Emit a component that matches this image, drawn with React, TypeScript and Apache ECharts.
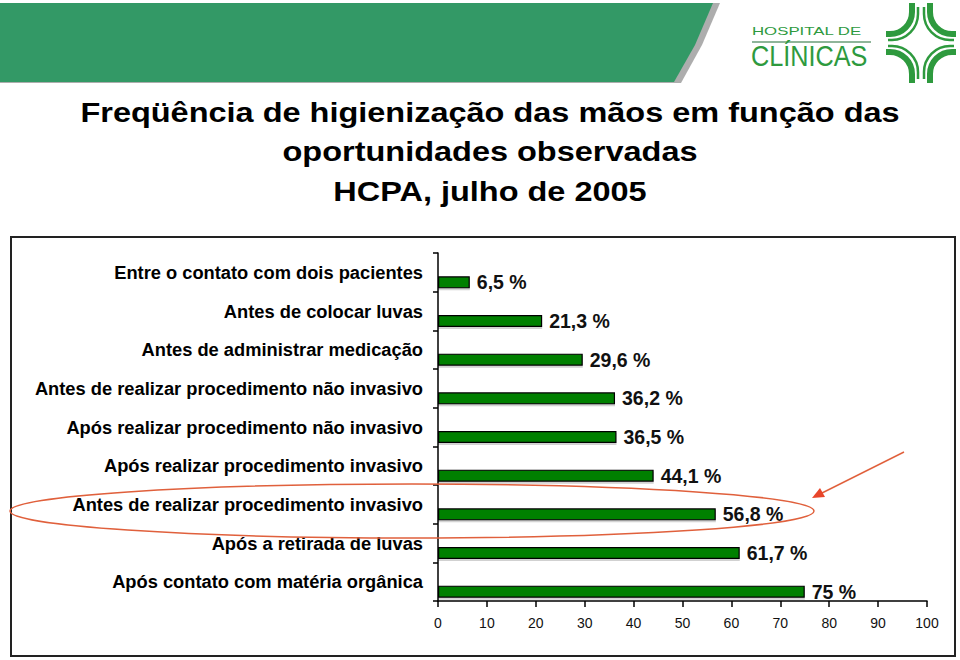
import React, { useEffect, useRef } from 'react';
import * as echarts from 'echarts';

const categories = [
  'Entre o contato com dois pacientes',
  'Antes de colocar luvas',
  'Antes de administrar medicação',
  'Antes de realizar procedimento não invasivo',
  'Após realizar procedimento não invasivo',
  'Após realizar procedimento invasivo',
  'Antes de realizar procedimento invasivo',
  'Após a retirada de luvas',
  'Após contato com matéria orgânica',
];
const values = [6.5, 21.3, 29.6, 36.2, 36.5, 44.1, 56.8, 61.7, 75];
const spacer = [0, 0, 0, 0, 0, 0, 0, 0, 0];
const xMin = 0;
const xMax = 100;
const xInterval = 10;
const titleLines = [
  'Freqüência de higienização das mãos em função das',
  'oportunidades observadas',
  'HCPA, julho de 2005',
];
const FONT = '"Liberation Sans", Arial, Helvetica, sans-serif';

const quadThick = 'M -9 -40 L -9 -31 A 22 22 0 0 1 -31 -9 L -35 -9';
const quadThin = 'M -3 -36 L -3 -29 A 26 26 0 0 1 -29 -3 L -33 -3';
let registered = false;
function ensureShape() {
  if (registered) return;
  echarts.graphic.registerShape('logoQuadA', echarts.graphic.extendPath(quadThick, {}) as any);
  echarts.graphic.registerShape('logoQuadB', echarts.graphic.extendPath(quadThin, {}) as any);
  registered = true;
}

export default function App() {
  const ref = useRef<HTMLDivElement>(null);
  useEffect(() => {
    if (!ref.current) return;
    ensureShape();
    const chart = echarts.init(ref.current, undefined, { renderer: 'svg' });
    const logoGreen = '#2e9a3e';
    const quads: any[] = [];
    [
      [1, 1],
      [-1, 1],
      [1, -1],
      [-1, -1],
    ].forEach(([sx, sy]) => {
      quads.push({
        type: 'logoQuadA',
        x: 921,
        y: 43,
        scaleX: sx,
        scaleY: sy,
        z: 10,
        style: { fill: 'none', stroke: logoGreen, lineWidth: 6 },
      });
      quads.push({
        type: 'logoQuadB',
        x: 921,
        y: 43,
        scaleX: sx,
        scaleY: sy,
        z: 10,
        style: { fill: 'none', stroke: logoGreen, lineWidth: 2.5 },
      });
    });
    const option: any = {
      animation: false,
      backgroundColor: '#ffffff',
      grid: { left: 438, right: 33, top: 253, bottom: 59, containLabel: false },
      xAxis: {
        type: 'value',
        min: xMin,
        max: xMax,
        interval: xInterval,
        axisLine: { show: true, lineStyle: { color: '#000', width: 1.5 } },
        axisTick: { show: true, length: 6, lineStyle: { color: '#000', width: 1.5 } },
        splitLine: { show: false },
        axisLabel: { color: '#111', fontSize: 14, fontFamily: FONT, margin: 15 },
      },
      yAxis: {
        type: 'category',
        inverse: true,
        data: categories,
        axisLine: { show: true, lineStyle: { color: '#000', width: 1.5 } },
        axisTick: { show: true, length: 5, lineStyle: { color: '#000', width: 1.5 } },
        axisLabel: {
          color: '#000',
          fontSize: 18.3,
          fontWeight: 'bold',
          fontFamily: FONT,
          margin: 15,
        },
      },
      series: [
        {
          name: 'spacer',
          type: 'bar',
          data: spacer,
          barWidth: 12,
          barGap: '66.7%',
          silent: true,
          itemStyle: { color: 'transparent' },
        },
        {
          name: 'Freqüência',
          type: 'bar',
          data: values,
          barWidth: 12,
          barGap: '66.7%',
          itemStyle: {
            color: '#008000',
            borderColor: '#000',
            borderWidth: 1.2,
            shadowColor: 'rgba(0,0,0,0.18)',
            shadowOffsetY: 2,
            shadowBlur: 0,
          },
          label: {
            show: true,
            position: 'right',
            distance: 7,
            color: '#111',
            fontSize: 19.5,
            fontWeight: 'bold',
            fontFamily: FONT,
            formatter: (p: any) => String(p.value).replace('.', ',') + ' %',
          },
        },
      ],
      graphic: [
        {
          type: 'polygon',
          z: 1,
          shape: { points: [[0, 3], [720, 3], [702, 45], [681, 83], [0, 83]] },
          style: { fill: '#8a8a8a', opacity: 0.7 },
        },
        {
          type: 'polygon',
          z: 2,
          shape: { points: [[0, 3], [713, 3], [695, 45], [674, 82], [0, 82]] },
          style: { fill: '#339966' },
        },
        {
          type: 'text',
          z: 10,
          x: 752,
          y: 31,
          scaleX: 1.6,
          style: {
            text: 'HOSPITAL DE',
            fill: logoGreen,
            font: `10.5px ${FONT}`,
            textAlign: 'left',
            textVerticalAlign: 'middle',
          },
        },
        {
          type: 'line',
          z: 10,
          shape: { x1: 752, y1: 42, x2: 871, y2: 42 },
          style: { stroke: '#8fb59a', lineWidth: 2 },
        },
        {
          type: 'text',
          z: 10,
          x: 751,
          y: 56,
          scaleX: 0.87,
          style: {
            text: 'CLÍNICAS',
            fill: logoGreen,
            font: `29px ${FONT}`,
            textAlign: 'left',
            textVerticalAlign: 'middle',
          },
        },
        ...quads,
        ...titleLines.map((t, i) => ({
          type: 'text',
          z: 10,
          x: 490,
          y: 112 + i * 39.5,
          scaleX: 1.16,
          style: {
            text: t,
            fill: '#000',
            font: `bold 28px ${FONT}`,
            textAlign: 'center',
            textVerticalAlign: 'middle',
          },
        })),
        {
          type: 'rect',
          z: 5,
          shape: { x: 11, y: 237, width: 944, height: 419 },
          style: { fill: 'none', stroke: '#222', lineWidth: 2 },
        },
        {
          type: 'ellipse',
          z: 20,
          shape: { cx: 412, cy: 511, rx: 402, ry: 27 },
          style: { fill: 'none', stroke: '#e0603c', lineWidth: 1.5 },
        },
        {
          type: 'line',
          z: 20,
          shape: { x1: 904, y1: 452, x2: 820, y2: 494 },
          style: { stroke: '#e0603c', lineWidth: 1.5 },
        },
        {
          type: 'polygon',
          z: 20,
          shape: { points: [[812, 498], [825, 497], [820, 488]] },
          style: { fill: '#e8452a' },
        },
      ],
    };
    chart.setOption(option);
    return () => chart.dispose();
  }, []);
  return (
    <div
      ref={ref}
      style={{ position: 'absolute', left: 0, top: 0, width: 960, height: 660 }}
    />
  );
}
